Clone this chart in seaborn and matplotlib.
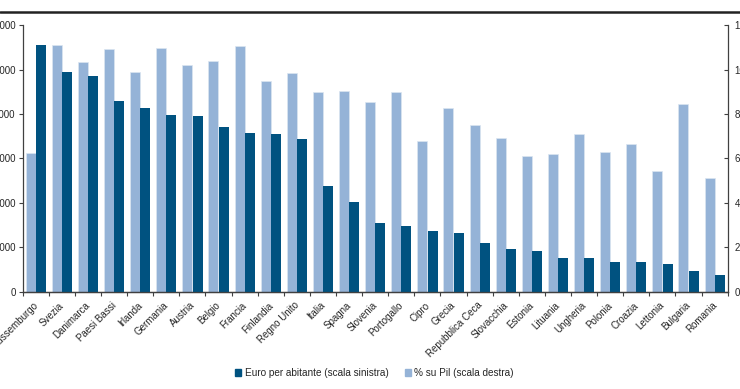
import matplotlib
matplotlib.use('Agg')
import matplotlib.pyplot as plt
from matplotlib.patches import Patch
from matplotlib.lines import Line2D
import matplotlib.transforms as mtransforms
import numpy as np
import pandas as pd
import seaborn as sns

sns.set_style('white')
plt.rcParams['font.family'] = ['Liberation Sans', 'DejaVu Sans']

PAESI = ['Lussemburgo', 'Svezia', 'Danimarca', 'Paesi Bassi', 'Irlanda',
         'Germania', 'Austria', 'Belgio', 'Francia', 'Finlandia',
         'Regno Unito', 'Italia', 'Spagna', 'Slovenia', 'Portogallo',
         'Cipro', 'Grecia', 'Repubblica Ceca', 'Slovacchia', 'Estonia',
         'Lituania', 'Ungheria', 'Polonia', 'Croazia', 'Lettonia',
         'Bulgaria', 'Romania']

EURO_PER_ABITANTE = [5550, 4945, 4860, 4285, 4135, 3970, 3945, 3700, 3570,
                     3550, 3430, 2385, 2010, 1540, 1470, 1365, 1330, 1095,
                     955, 915, 750, 750, 660, 660, 615, 475, 370]

PCT_SU_PIL = [6.25, 11.1, 10.33, 10.92, 9.88, 10.96, 10.23, 10.38, 11.05,
              9.47, 9.84, 8.97, 9.05, 8.52, 8.97, 6.77, 8.27, 7.5,
              6.93, 6.1, 6.18, 7.12, 6.3, 6.67, 5.43, 8.47, 5.1]

LEFT_TICKS = [0, 1000, 2000, 3000, 4000, 5000, 6000]
RIGHT_TICKS = [0, 2, 4, 6, 8, 10, 12]

SER_EURO = 'Euro per abitante (scala sinistra)'
SER_PIL = '% su Pil (scala destra)'
HUE_ORDER = [SER_PIL, SER_EURO]
COLOURS = {SER_EURO: '#005280', SER_PIL: '#95B3D7'}

euro = pd.DataFrame({'paese': PAESI, 'valore': EURO_PER_ABITANTE,
                     'serie': SER_EURO})
pil = pd.DataFrame({'paese': PAESI, 'valore': PCT_SU_PIL, 'serie': SER_PIL})

fig = plt.figure(figsize=(7.4, 3.89), dpi=100)
ax = fig.add_axes([0.0307, 0.2501, 0.9527, 0.6851])
ax2 = ax.twinx()

# Same hue_order on both axes so the bars are dodged side by side
sns.barplot(data=pil, x='paese', y='valore', hue='serie', hue_order=HUE_ORDER,
            palette=COLOURS, order=PAESI, width=0.78, gap=0.02, dodge=True,
            saturation=1, edgecolor='#dbe5f1', linewidth=0.5, legend=False,
            ax=ax2)
sns.barplot(data=euro, x='paese', y='valore', hue='serie', hue_order=HUE_ORDER,
            palette=COLOURS, order=PAESI, width=0.78, gap=0.02, dodge=True,
            saturation=1, linewidth=0, legend=False, ax=ax)

ax.set_zorder(ax2.get_zorder() + 1)
ax.patch.set_visible(False)

spine_col = '#404040'
for a in (ax, ax2):
    a.set_xlim(-0.5, len(PAESI) - 0.5)
    a.set_xlabel('')
    a.set_ylabel('')
    a.spines['top'].set_visible(False)
    for s in ('left', 'right', 'bottom'):
        a.spines[s].set_color(spine_col)
        a.spines[s].set_linewidth(0.9)

ax.spines['right'].set_visible(False)
ax2.spines['left'].set_visible(False)

ax.set_ylim(0, 6000)
ax.set_yticks(LEFT_TICKS)
ax.set_yticklabels([str(t) for t in LEFT_TICKS])
ax.tick_params(axis='y', direction='out', length=3, width=0.8, color=spine_col,
               labelsize=7, pad=2, left=True)

ax2.set_ylim(0, 12)
ax2.set_yticks(RIGHT_TICKS)
ax2.set_yticklabels([str(t) for t in RIGHT_TICKS])
ax2.tick_params(axis='y', direction='in', length=3, width=0.8, color=spine_col,
                labelsize=7, pad=5, right=True)

ax.set_xticks(np.arange(len(PAESI)))
ax.set_xticklabels(PAESI, rotation=45, ha='right', rotation_mode='anchor',
                   fontsize=7)
ax.set_xticks(np.arange(-0.5, len(PAESI)), minor=True)
ax.tick_params(axis='x', which='major', length=0, pad=4)
ax.tick_params(axis='x', which='minor', direction='out', length=3, width=0.8,
               color=spine_col, bottom=True)

# nudge the slanted country names down-left a little
shift = mtransforms.ScaledTranslation(-0.03, -0.03, fig.dpi_scale_trans)
for lbl in ax.get_xticklabels():
    lbl.set_transform(lbl.get_transform() + shift)

handles = [Patch(color=COLOURS[s], label=s) for s in (SER_EURO, SER_PIL)]
fig.legend(handles=handles, loc='center', bbox_to_anchor=(0.506, 1 - 373 / 389),
           ncol=2, frameon=False, fontsize=7.2, handlelength=0.6,
           handleheight=0.6, handletextpad=0.35, columnspacing=1.6)

# Rule across the top of the page
fig.add_artist(Line2D([0, 1], [1 - 12 / 389, 1 - 12 / 389],
                      color='#222222', linewidth=1.8,
                      transform=fig.transFigure))

fig.savefig('out.png', dpi=100)
plt.close('all')
